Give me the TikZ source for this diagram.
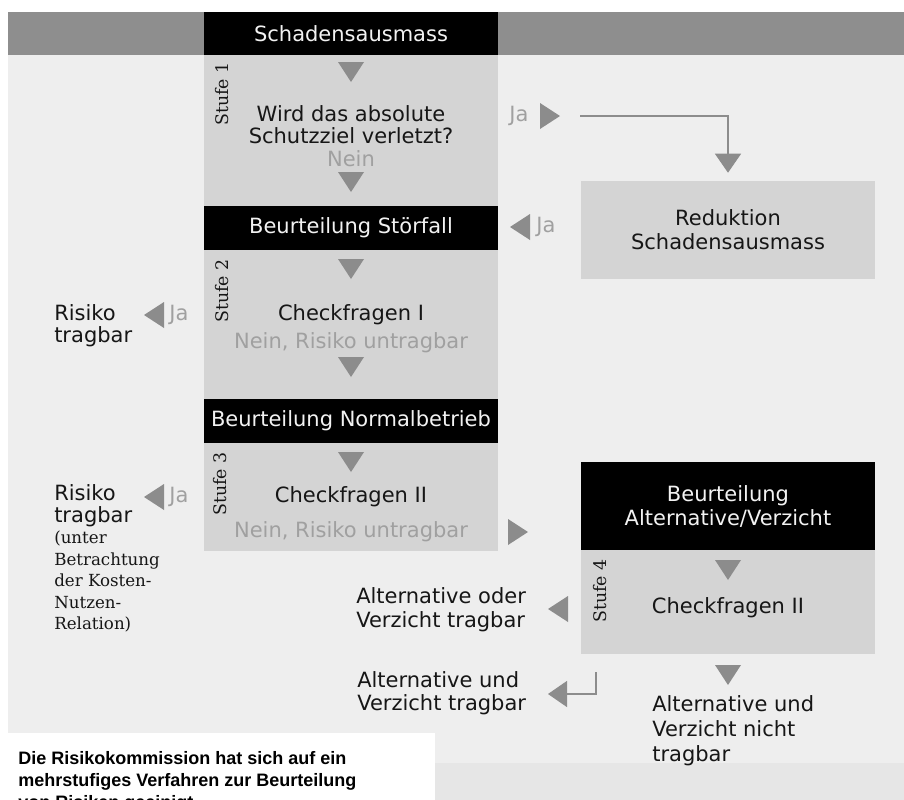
\documentclass[tikz,border=0pt]{standalone}
\usepackage{fontspec}
\setmainfont{DejaVu Sans}
\newfontfamily\stufeserif{DejaVu Serif}
\newfontfamily\notesans{Liberation Sans}
\usetikzlibrary{arrows.meta}

\definecolor{bandgray}{HTML}{8E8E8E}
\definecolor{bggray}{HTML}{EEEEEE}
\definecolor{footgray}{HTML}{E6E6E6}
\definecolor{fieldgray}{HTML}{D4D4D4}
\definecolor{tipgray}{HTML}{8C8C8C}
\definecolor{hintgray}{HTML}{A0A0A0}
\definecolor{textdark}{HTML}{161616}

\tikzset{
  tri down/.pic={\fill[tipgray] (-13,-10) -- (13,-10) -- (0,10) -- cycle;},
  tri right/.pic={\fill[tipgray] (-10,-13) -- (-10,13) -- (10,0) -- cycle;},
  tri left/.pic={\fill[tipgray] (10,-13) -- (10,13) -- (-10,0) -- cycle;},
}

\begin{document}
\begin{tikzpicture}[x=0.75pt,y=-0.75pt,
  txt/.style={font=\fontsize{15.75}{18}\selectfont, text=textdark, inner sep=0pt, align=center},
  head/.style={txt, fill=black, text=white!95!black, minimum width=220.5pt},
  hint/.style={txt, text=hintgray},
  side/.style={txt, align=left, anchor=west, font=\fontsize{15.75}{16.5}\selectfont},
  serifside/.style={inner sep=0pt, align=left, anchor=north west, text=textdark,
    font=\stufeserif\fontsize{12.5}{16.1}\selectfont},
  stufe/.style={inner sep=0pt, rotate=90, text=textdark, font=\stufeserif\fontsize{13}{15}\selectfont},
  link/.style={draw=tipgray, line width=0.8pt},
  linktip/.style={link, -{Triangle[length=14.25pt, width=19.5pt]}},
]
\clip (0,0) rectangle (904,800);
\fill[white] (0,0) rectangle (904,800);

% background bands
\fill[bandgray] (8,12) rectangle (904,55);
\fill[bggray] (8,55) rectangle (904,763);
\fill[footgray] (8,763) rectangle (904,800);
\fill[white] (8,733) rectangle (435,800);

% textured fields
\fill[fieldgray] (204,55) rectangle (498,206);
\fill[fieldgray] (204,250) rectangle (498,399);
\fill[fieldgray] (204,443) rectangle (498,551);
\fill[fieldgray] (581,550) rectangle (875,654);

% headers
\node[head, minimum height=32.25pt] (schaden) at (351,33.5) {Schadensausmass};
\node[head, minimum height=33pt] (stoerfall) at (351,228) {Beurteilung Störfall};
\node[head, minimum height=33pt] (normal) at (351,421) {Beurteilung Normalbetrieb};
\node[head, minimum height=66pt, font=\fontsize{15.75}{18}\selectfont] (alternative) at (728,506)
  {Beurteilung\\Alternative/Verzicht};
\node[txt, fill=fieldgray, minimum width=220.5pt, minimum height=73.5pt] (reduktion) at (728,230)
  {Reduktion\\Schadensausmass};

% Stufe 1
\node[stufe] (stufe1) at (222,94) {Stufe 1};
\pic at (351,72) {tri down};
\node[txt, font=\fontsize{15.75}{16.5}\selectfont] (frage) at (351,125) {Wird das absolute\\Schutzziel verletzt?};
\node[hint] (nein1) at (351,159) {Nein};
\pic at (351,182) {tri down};
\node[hint] (ja1) at (519,116) {Ja};
\pic at (550,116) {tri right};
\coordinate (ja1end) at (580,116);
\draw[linktip, shorten >=6pt] (ja1end) -| (reduktion.north);
\pic at (520,227) {tri left};
\node[hint] (ja2) at (546,227) {Ja};

% Stufe 2
\node[stufe] (stufe2) at (222,291) {Stufe 2};
\pic at (351,269) {tri down};
\node[txt] (check1) at (351,315) {Checkfragen I};
\node[hint] (nein2) at (351,343) {Nein, Risiko untragbar};
\pic at (351,367) {tri down};
\node[side] (tragbar1) at (54,326) {Risiko\\tragbar};
\pic at (154,315) {tri left};
\node[hint] (ja3) at (179,315) {Ja};

% Stufe 3
\node[stufe] (stufe3) at (220,484) {Stufe 3};
\pic at (351,462) {tri down};
\node[txt] (check2) at (351,497) {Checkfragen II};
\node[hint] (nein3) at (351,532) {Nein, Risiko untragbar};
\pic at (518,532) {tri right};
\node[side] (tragbar2) at (54,506) {Risiko\\tragbar};
\node[serifside] (kosten) at (54,531) {(unter\\Betrachtung\\der Kosten-\\Nutzen-\\Relation)};
\pic at (154,497) {tri left};
\node[hint] (ja4) at (179,497) {Ja};

% Stufe 4
\node[stufe] (stufe4) at (600,591) {Stufe 4};
\pic at (728,570) {tri down};
\node[txt] (check3) at (728,608) {Checkfragen II};
\pic at (558,609) {tri left};
\node[side, font=\fontsize{15.75}{18}\selectfont] (oder) at (356,610) {Alternative oder\\Verzicht tragbar};
\pic at (728,675) {tri down};
\node[side, font=\fontsize{15.75}{18.75}\selectfont] (nicht) at (652,731) {Alternative und\\Verzicht nicht\\tragbar};
\node[side, font=\fontsize{15.75}{17}\selectfont] (und) at (357,693) {Alternative und\\Verzicht tragbar};
\coordinate (undtop) at (596,672);
\coordinate (undtip) at (548,694);
\draw[linktip] (undtop) |- (undtip);

% note
\node[inner sep=0pt, anchor=north west, align=left, text=black,
  font=\notesans\bfseries\fontsize{13.5}{16.5}\selectfont] (note) at (18,751)
  {Die Risikokommission hat sich auf ein\\mehrstufiges Verfahren zur Beurteilung\\von Risiken geeinigt};
\end{tikzpicture}
\end{document}
